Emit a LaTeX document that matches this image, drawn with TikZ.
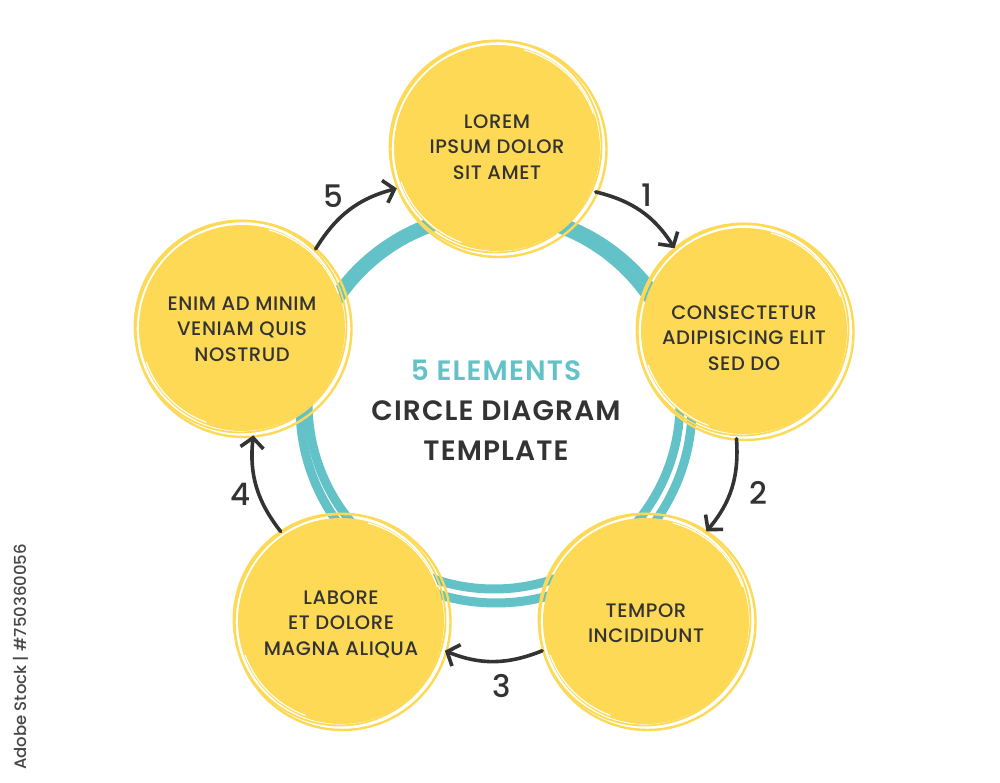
\documentclass[tikz,border=0pt]{standalone}
\usepackage{fontspec}
\setmainfont{Poppins}[UprightFont=* Medium, BoldFont=* SemiBold]
\newfontfamily\numfont{Poppins}
\usetikzlibrary{arrows.meta,calc}
\definecolor{ylw}{HTML}{FDD955}
\definecolor{tealc}{HTML}{62C2C7}
\definecolor{ink}{HTML}{333333}
\newcommand\yblob[2]{%
  \begin{scope}[shift={(#1,#2)}]
    \fill[ylw] (0,0) circle (103);
    \draw[ylw,line width=2.4pt] (1.5,-1) circle (108);
    \draw[ylw,line width=1.8pt] (-1.5,1.5) circle (106);
    \draw[white,line width=1.1pt] (-1,0.5) ++(200:101) arc (200:250:101);
    \draw[white,line width=1.1pt] (0.5,-0.5) ++(20:102) arc (20:75:102);
  \end{scope}}
\tikzset{
  blob/.style={circle,minimum size=216pt,inner sep=0pt,outer sep=0pt},
  btext/.style={align=center,text=ink,
    font=\fontsize{19.5}{25.5}\selectfont\addfontfeature{LetterSpace=3}},
  arr/.style={ink,line width=3.6pt,line cap=round,
    -{Straight Barb[length=10pt,width=23pt,line width=3.6pt]}},
  num/.style={text=ink,font=\fontsize{31}{31}\selectfont},
  ttl/.style={font=\bfseries\fontsize{28}{28}\selectfont\addfontfeature{LetterSpace=4}}
}
\begin{document}
\begin{tikzpicture}[x=1pt,y=1pt]
\useasboundingbox (0,0) rectangle (1000,783);
\fill[white] (0,0) rectangle (1000,783);
% ring
\draw[tealc,line width=9pt] (494,380) circle (186);
\draw[tealc,line width=9pt] (496,376) circle (196);
\draw[white,line width=0.9pt] (495,378) ++(150:191) arc (150:170:191);
\draw[white,line width=0.9pt] (495,378) ++(-5:190) arc (-5:-25:190);
% blobs
\yblob{497}{635}
\yblob{744}{452}
\yblob{646}{162}
\yblob{341}{162}
\yblob{242}{455}
\node[blob] (c1) at (497,635) {};
\node[blob] (c2) at (744,452) {};
\node[blob] (c3) at (646,162) {};
\node[blob] (c4) at (341,162) {};
\node[blob] (c5) at (242,455) {};
\node[btext] (x1) at (497,636) {LOREM\\IPSUM DOLOR\\SIT AMET};
\node[btext] (x2) at (744,445) {CONSECTETUR\\ADIPISICING ELIT\\SED DO};
\node[btext] (x3) at (646,160) {TEMPOR\\INCIDIDUNT};
\node[btext] (x4) at (341,159) {LABORE\\ET DOLORE\\MAGNA ALIQUA};
\node[btext] (x5) at (242,454) {ENIM AD MINIM\\VENIAM QUIS\\NOSTRUD};
% arrows
\draw[arr] (c1.-24) to[bend left=22] (c2.130);
\draw[arr] (c2.266) to[bend left=22] (c3.56);
\draw[arr] (c3.196) to[bend left=22] (c4.-16);
\draw[arr] (c4.124) to[bend left=22] (c5.-84);
\draw[arr] (c5.47) to[bend left=22] (c1.202);
\node[num] (n1) at (647,588) {1};
\node[num] (n2) at (758,290) {2};
\node[num] (n3) at (502,97) {3};
\node[num] (n4) at (241,289) {4};
\node[num] (n5) at (333,587) {5};
% title
\node[ttl,text=tealc] (t1) at (496,413) {5 ELEMENTS};
\node[ttl,text=ink] (t2) at (496,372) {CIRCLE DIAGRAM};
\node[ttl,text=ink] (t3) at (496,332) {TEMPLATE};
% stock id
\node[rotate=90,text=ink!90,font=\fontsize{16.5}{16.5}\selectfont] (wm) at (21,126) {Adobe Stock | \#750360056};
\end{tikzpicture}
\end{document}
